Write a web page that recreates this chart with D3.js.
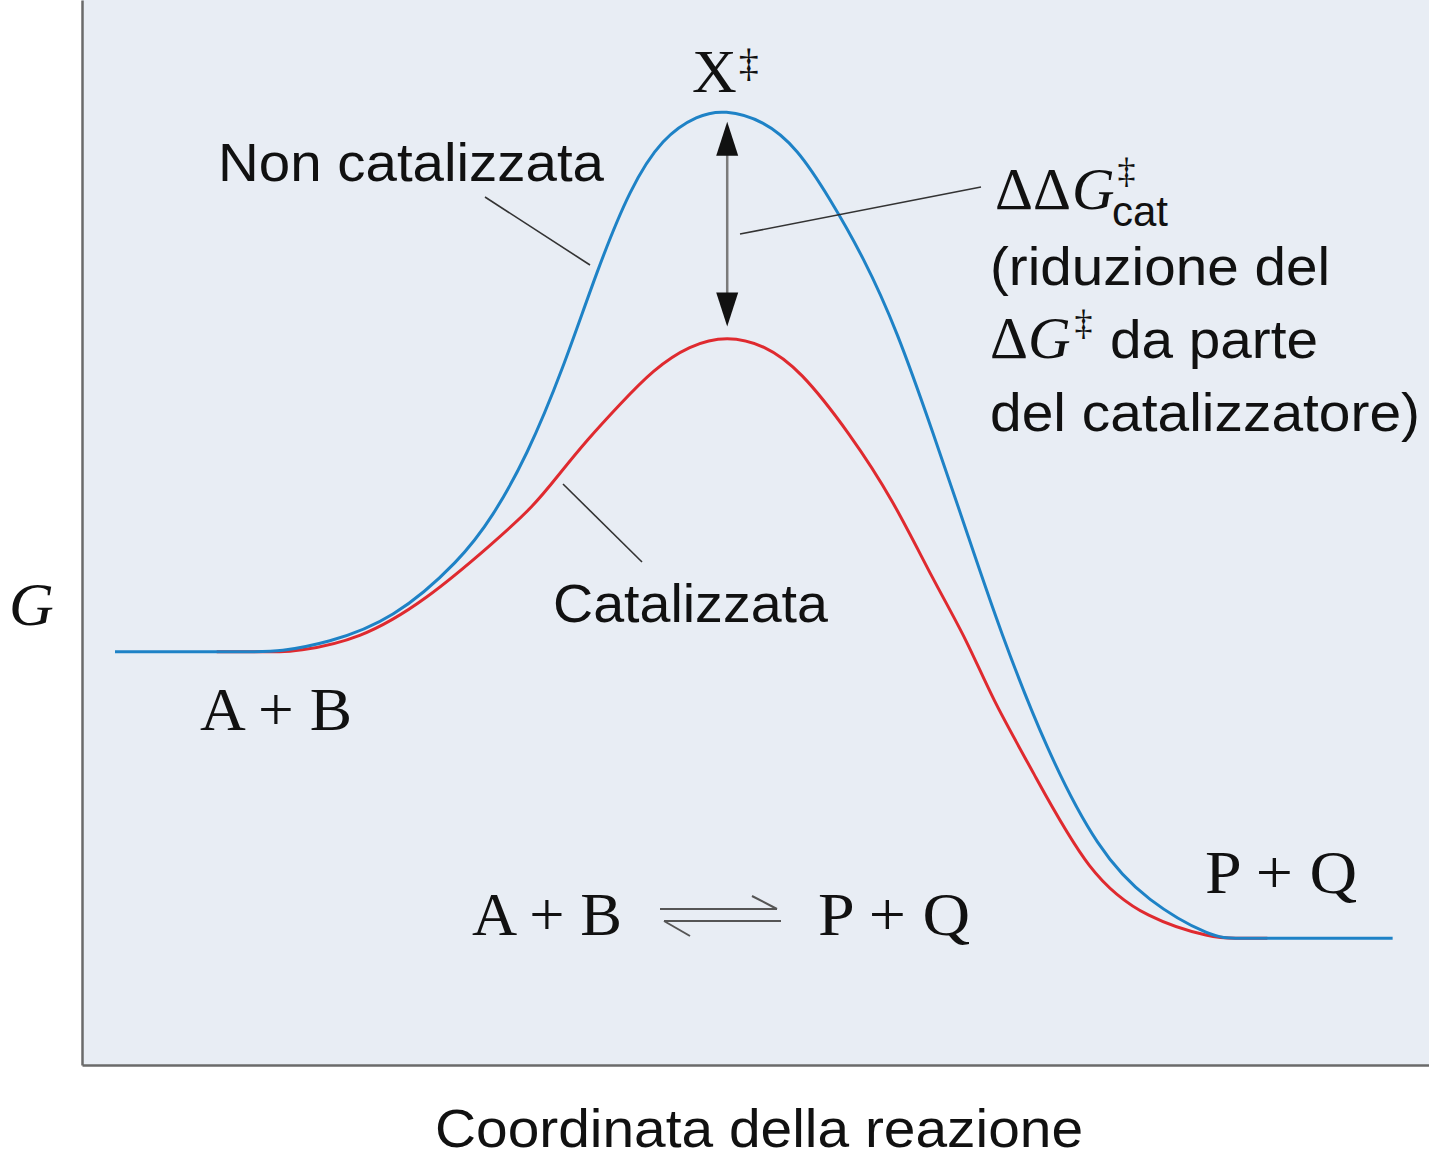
<!DOCTYPE html>
<html>
<head>
<meta charset="utf-8">
<script src="https://cdn.jsdelivr.net/npm/d3@7"></script>
<style>
  body { margin: 0; background: #fff; }
  .serif { font-family: "Liberation Serif", "DejaVu Serif", serif; fill: #111; }
  .sans { font-family: "Liberation Sans", Arial, sans-serif; fill: #111; }
</style>
</head>
<body>
<div id="chart"></div>
<script>
// size of the drawing
var svgWidth = 1429;
var svgHeight = 1157;

// plot panel (shaded box)
var panel = { left: 82, right: 1429, top: 0, bottom: 1065 };

// reaction coordinate (0-100) and free energy G (arbitrary units 0-100)
var uncatX = [2.45, 8.5, 13.3, 14.5, 18.2, 23.1, 28.1, 30.5, 33.0, 35.7, 38.2, 40.7, 43.1, 45.7, 47.7,
              50.6, 53.1, 55.5, 58.0, 60.5, 63.2, 65.7, 68.2, 71.6, 75.4, 79.1, 84.0, 85.5, 90.5, 97.3];
var uncatG = [38.8, 38.8, 38.8, 38.8, 39.6, 41.8, 47.4, 51.5, 57.1, 65.3, 74.5, 82.4, 87.1, 89.2, 89.7,
              88.7, 86.1, 81.4, 75.9, 69.0, 59.3, 50.0, 40.6, 29.6, 20.2, 15.3, 11.9, 11.9, 11.9, 11.9];

var catX = [10.0, 13.5, 14.7, 15.7, 20.6, 25.6, 30.5, 33.5, 35.5, 37.5, 39.9, 42.4, 45.1, 47.9,
            50.7, 53.3, 57.0, 60.2, 63.2, 65.7, 67.6, 70.4, 74.8, 79.1, 84.0, 85.5, 88.0];
var catG = [38.8, 38.8, 38.8, 38.8, 39.9, 43.7, 49.0, 52.4, 55.6, 58.7, 62.0, 65.3, 67.6, 68.5,
            67.6, 65.3, 59.3, 53.1, 45.5, 39.9, 34.3, 28.0, 17.7, 13.7, 11.9, 11.9, 11.9];

var uncatColor = "#1e82c6";
var catColor = "#df2a2f";

var svg = d3.select("#chart").append("svg")
  .attr("width", svgWidth).attr("height", svgHeight);

// scales
var x = d3.scaleLinear().domain([0, 100]).range([panel.left, panel.right]);
var y = d3.scaleLinear().domain([0, 100]).range([panel.bottom, panel.top]);

// background panel
svg.append("rect")
  .attr("x", panel.left).attr("y", panel.top)
  .attr("width", panel.right - panel.left).attr("height", panel.bottom - panel.top)
  .attr("fill", "#e8edf4");

// axes, no ticks
var leftAxis = d3.axisLeft(y).tickValues([]).tickSizeOuter(0);
var bottomAxis = d3.axisBottom(x).tickValues([]).tickSizeOuter(0);
svg.append("g").attr("transform", `translate(${panel.left},0)`).call(leftAxis)
  .select(".domain").attr("stroke", "#6a6a6a").attr("stroke-width", 2.5);
svg.append("g").attr("transform", `translate(0,${panel.bottom})`).call(bottomAxis)
  .select(".domain").attr("stroke", "#6a6a6a").attr("stroke-width", 2.5);

var line = d3.line()
  .x(d => x(d[0]))
  .y(d => y(d[1]))
  .curve(d3.curveBasis);

// catalysed (red) below, uncatalysed (blue) on top
svg.append("path")
  .datum(d3.zip(catX, catG))
  .attr("d", line)
  .attr("fill", "none").attr("stroke", catColor).attr("stroke-width", 3);
svg.append("path")
  .datum(d3.zip(uncatX, uncatG))
  .attr("d", line)
  .attr("fill", "none").attr("stroke", uncatColor).attr("stroke-width", 3);

// double arrow between the two maxima
var peakX = x(47.9);
var topTip = y(d3.max(uncatG)) + 12;
var botTip = y(d3.max(catG)) - 9;
svg.append("line")
  .attr("x1", peakX).attr("x2", peakX)
  .attr("y1", topTip + 20).attr("y2", botTip - 20)
  .attr("stroke", "#7a7a7a").attr("stroke-width", 2.5);
svg.append("path")
  .attr("d", `M${peakX},${topTip} L${peakX + 11},${topTip + 34} L${peakX - 11},${topTip + 34} Z`)
  .attr("fill", "#111");
svg.append("path")
  .attr("d", `M${peakX},${botTip} L${peakX + 11},${botTip - 34} L${peakX - 11},${botTip - 34} Z`)
  .attr("fill", "#111");

// leader lines
var leaders = [
  [485, 197, 590, 265],
  [563, 484, 642, 562],
  [740, 234, 981, 187]
];
svg.selectAll(".leader").data(leaders).enter().append("line")
  .attr("class", "leader")
  .attr("x1", d => d[0]).attr("y1", d => d[1])
  .attr("x2", d => d[2]).attr("y2", d => d[3])
  .attr("stroke", "#333").attr("stroke-width", 1.6);

// helpers
function sansText(txt, x0, base, size, len) {
  svg.append("text").attr("class", "sans")
    .attr("x", x0).attr("y", base)
    .attr("font-size", size)
    .attr("textLength", len).attr("lengthAdjust", "spacingAndGlyphs")
    .text(txt);
}
function serifText(txt, x0, base, size, len) {
  var t = svg.append("text").attr("class", "serif")
    .attr("x", x0).attr("y", base)
    .attr("font-size", size)
    .text(txt);
  if (len) t.attr("textLength", len).attr("lengthAdjust", "spacingAndGlyphs");
  return t;
}

sansText("Non catalizzata", 218, 181, 54, 386);
sansText("Catalizzata", 553, 622, 54, 275);
sansText("(riduzione del", 990, 285, 54, 340);
sansText("da parte", 1110, 358, 54, 208);
sansText("del catalizzatore)", 990, 431, 54, 430);
sansText("Coordinata della reazione", 435, 1147, 53, 648);

// X double dagger
var xt = serifText("X", 692, 92, 62);
xt.append("tspan").attr("font-size", 40).attr("dx", 2).attr("dy", -16).text("\u2021");

// ΔΔG‡cat
var ddg = serifText("\u0394\u0394", 995, 209, 59);
ddg.append("tspan").attr("font-style", "italic").attr("dx", 1).text("G");
ddg.append("tspan").attr("font-size", 36).attr("dx", 3).attr("dy", -26).text("\u2021");
ddg.append("tspan").attr("class", "sans").attr("font-size", 42)
  .attr("x", 1112).attr("dy", 43).text("cat");

// ΔG‡ (second line of the note)
var dg = serifText("\u0394", 990, 358, 59);
dg.append("tspan").attr("font-style", "italic").attr("dx", 0).text("G");
dg.append("tspan").attr("font-size", 36).attr("dx", 4).attr("dy", -23).text("\u2021");

// G axis label
serifText("G", 9, 625, 62).attr("font-style", "italic");

// species
serifText("A + B", 200, 730, 62, 152);
serifText("P + Q", 1205, 893, 62, 152);
serifText("A + B", 472, 935, 62, 150);
serifText("P + Q", 818, 935, 62, 152);

// equilibrium arrows
var eq = [
  [660, 909, 777, 909], [752, 896, 777, 909],
  [664, 921, 781, 921], [664, 921, 690, 936]
];
svg.selectAll(".eq").data(eq).enter().append("line")
  .attr("class", "eq")
  .attr("x1", d => d[0]).attr("y1", d => d[1])
  .attr("x2", d => d[2]).attr("y2", d => d[3])
  .attr("stroke", "#555").attr("stroke-width", 2);
</script>
</body>
</html>
